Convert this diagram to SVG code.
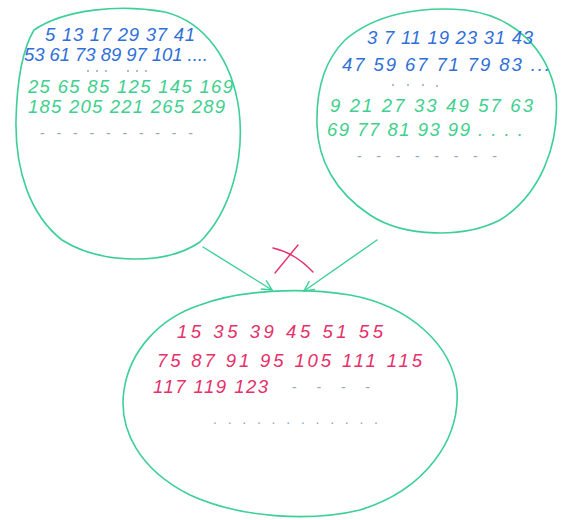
<svg xmlns="http://www.w3.org/2000/svg" width="562" height="520" viewBox="0 0 562 520">
<style>
.c{fill:none;stroke:#3ccf98;stroke-width:1.6;stroke-linecap:round}
.t{font-family:"Liberation Sans",Arial,sans-serif;font-style:italic;font-size:18.5px}
.b{fill:#2f6fd8}
.g{fill:#3fcf8e}
.r{fill:#e5306a}
.d{fill:#8aa8c8;font-family:"Liberation Sans",Arial,sans-serif;font-size:14px}
.p{fill:#8aa8c8}
.a{fill:none;stroke:#3ccf98;stroke-width:1.4;stroke-linecap:round}
</style>
<defs>
<marker id="ah" viewBox="0 0 12 12" refX="11" refY="6" markerWidth="12" markerHeight="12" markerUnits="userSpaceOnUse" orient="auto">
<path d="M1,1 L11,6 L1,11" fill="none" stroke="#3ccf98" stroke-width="1.4"/>
</marker>
</defs>
<rect width="562" height="520" fill="#ffffff"/>
<g id="left">
<path class="c" d="M34,30 C65,9 120,4 165,12 C205,22 232,60 239,110 C245,160 230,212 200,242 C165,266 100,264 62,240 C30,215 15,170 16,120 C17,80 22,50 34,30 Z"/>
<text class="t b" x="45" y="41" textLength="150" lengthAdjust="spacing">5 13 17 29 37 41</text>
<text class="t b" x="24" y="61" textLength="184" lengthAdjust="spacing">53 61 73 89 97 101 ....</text>
<g class="p"><circle cx="88" cy="71" r="1"/><circle cx="97" cy="71" r="1"/><circle cx="106" cy="71" r="1"/><circle cx="128" cy="71" r="1"/><circle cx="137" cy="71" r="1"/><circle cx="146" cy="71" r="1"/></g>
<text class="t g" x="28" y="93" textLength="205" lengthAdjust="spacing">25 65 85 125 145 169</text>
<text class="t g" x="28" y="113" textLength="197" lengthAdjust="spacing">185 205 221 265 289</text>
<text class="d" x="40" y="138" textLength="153" lengthAdjust="spacing">- - - - - - - - - -</text>
</g>
<g id="right">
<path class="c" d="M345,40 C375,14 420,6 465,10 C515,16 548,50 556,95 C560,145 540,195 500,220 C465,238 405,238 370,215 C335,192 318,160 317,125 C316,90 325,60 345,40 Z"/>
<text class="t b" x="367" y="44" textLength="166" lengthAdjust="spacing">3 7 11 19 23 31 43</text>
<text class="t b" x="342" y="71" textLength="208" lengthAdjust="spacing">47 59 67 71 79 83 ...</text>
<g class="p"><circle cx="393" cy="85" r="1"/><circle cx="408" cy="85" r="1"/><circle cx="423" cy="85" r="1"/><circle cx="437" cy="86" r="1"/></g>
<text class="t g" x="330" y="112" textLength="203" lengthAdjust="spacing">9 21 27 33 49 57 63</text>
<text class="t g" x="327" y="136" textLength="196" lengthAdjust="spacing">69 77 81 93 99 . . . .</text>
<text class="d" x="357" y="161" textLength="140" lengthAdjust="spacing">- - - - - - - -</text>
</g>
<g id="bottom">
<path class="c" d="M200,305 C240,290 300,287 350,295 C410,306 452,345 457,390 C460,440 425,490 360,510 C310,522 240,518 190,495 C140,470 118,430 124,390 C130,350 160,318 200,305 Z"/>
<text class="t r" x="177" y="338" textLength="206" lengthAdjust="spacing">15 35 39 45 51 55</text>
<text class="t r" x="157" y="367" textLength="265" lengthAdjust="spacing">75 87 91 95 105 111 115</text>
<text class="t r" x="153" y="393" textLength="115" lengthAdjust="spacing">117 119 123</text>
<text class="d" x="292" y="392" textLength="78" lengthAdjust="spacing">-  -  - -</text>
<text class="d" x="213" y="424" textLength="165" lengthAdjust="spacing">. . . . . . . . .  . . .</text>
</g>
<g id="connectors">
<path class="a" d="M203,247 L272,290" marker-end="url(#ah)"/>
<path class="a" d="M377,240 L304,291" marker-end="url(#ah)"/>
<path d="M275,273 L298,245 M273,248 Q295,253 313,272" fill="none" stroke="#e5306a" stroke-width="1.4" stroke-linecap="round"/>
</g>
</svg>
